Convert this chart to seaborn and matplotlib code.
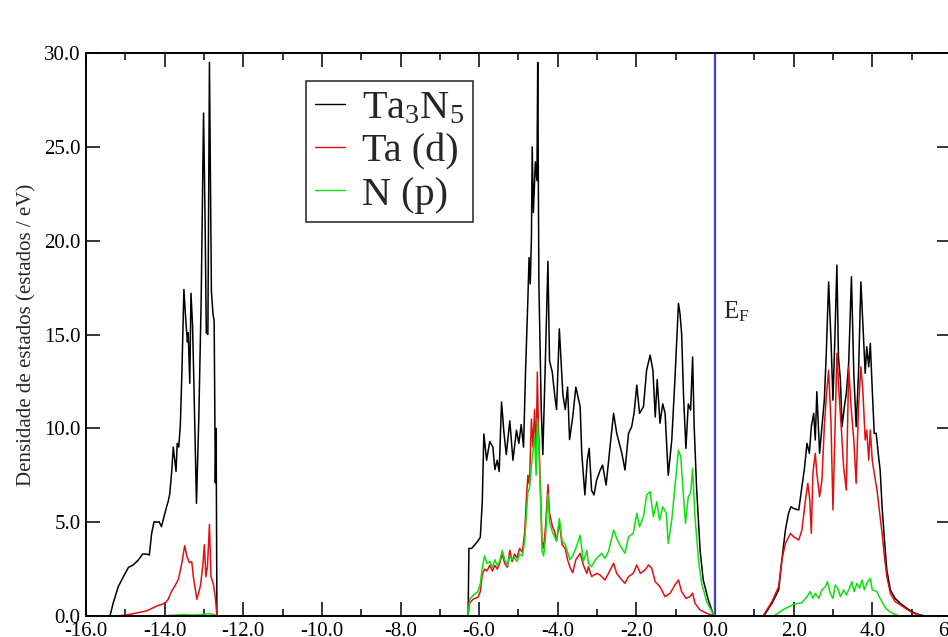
import matplotlib
matplotlib.use("Agg")
import matplotlib.pyplot as plt
from matplotlib.lines import Line2D
from matplotlib.ticker import MultipleLocator, FormatStrFormatter
import numpy as np
import pandas as pd
import seaborn as sns

sns.set_theme(style="ticks")
plt.rcParams['font.family'] = ['Liberation Serif', 'DejaVu Serif']
plt.rcParams['mathtext.fontset'] = 'custom'
plt.rcParams['mathtext.rm'] = 'Liberation Serif'
plt.rcParams['mathtext.it'] = 'Liberation Serif:italic'
plt.rcParams['axes.unicode_minus'] = False

# ---------------- Densidade de estados do Ta3N5 (energia relativa a E_F, eV) ----------------
# Banda inferior (estados N 2s)
b1_e_tot = [-15.39, -15.31, -15.18, -15.05, -14.92, -14.80, -14.67, -14.56, -14.46, -14.39,
            -14.33, -14.27, -14.20, -14.14, -14.08, -14.02, -13.95, -13.91, -13.87, -13.82,
            -13.78, -13.71, -13.68, -13.64, -13.60, -13.56, -13.51, -13.46, -13.42, -13.40,
            -13.36, -13.33, -13.29, -13.26, -13.19, -13.13, -13.07, -13.01, -12.97, -12.94,
            -12.90, -12.86, -12.81, -12.77, -12.74, -12.71, -12.69, -12.67]
b1_tot = [0.00, 0.68, 1.56, 2.09, 2.59, 2.72, 2.98, 3.30, 3.30, 3.25,
          4.40, 5.02, 5.00, 5.02, 4.76, 5.26, 5.82, 6.10, 6.50, 7.70,
          9.00, 7.70, 9.20, 9.00, 10.20, 13.00, 17.40, 15.70, 14.60, 15.10,
          12.40, 17.20, 15.50, 12.80, 6.00, 10.60, 16.90, 26.80, 20.90, 15.10,
          15.00, 29.50, 17.30, 16.10, 15.70, 7.10, 10.00, 0.00]

b1_e_ta = [-15.20, -14.88, -14.46, -14.20, -13.99, -13.91, -13.82, -13.74, -13.65, -13.56,
           -13.49, -13.43, -13.37, -13.31, -13.27, -13.18, -13.09, -13.03, -12.99, -12.95,
           -12.91, -12.86, -12.82, -12.76, -12.71, -12.67]
b1_ta = [0.00, 0.09, 0.27, 0.53, 0.68, 0.89, 1.33, 1.60, 1.95, 2.84,
         3.75, 3.16, 2.84, 2.90, 2.09, 0.89, 1.60, 2.66, 3.80, 2.09,
         2.66, 4.88, 2.09, 1.70, 0.97, 0.00]

b1_e_n = [-14.30, -14.00, -13.70, -13.50, -13.30, -13.10, -12.95, -12.85, -12.75, -12.67]
b1_n = [0.00, 0.02, 0.05, 0.08, 0.05, 0.07, 0.10, 0.12, 0.08, 0.00]

# Banda de valencia
b2_e_tot = [-6.28, -6.26, -6.19, -6.03, -5.97, -5.92, -5.88, -5.81, -5.73, -5.65,
            -5.60, -5.54, -5.49, -5.43, -5.37, -5.31, -5.22, -5.14, -5.05, -4.99,
            -4.93, -4.87, -4.82, -4.76, -4.73, -4.70, -4.67, -4.65, -4.62, -4.57,
            -4.53, -4.51, -4.48, -4.42, -4.38, -4.31, -4.25, -4.21, -4.14, -4.08,
            -4.03, -3.96, -3.87, -3.81, -3.75, -3.70, -3.62, -3.54,
            -3.43, -3.39, -3.31, -3.25, -3.20, -3.14, -3.08, -3.01, -2.92, -2.86,
            -2.77, -2.67, -2.58, -2.50, -2.37, -2.29, -2.20, -2.12, -2.06, -1.99,
            -1.92, -1.82, -1.74, -1.65, -1.58, -1.52, -1.47, -1.40, -1.33, -1.27,
            -1.19, -1.10, -1.02, -0.93, -0.89, -0.85, -0.80, -0.74, -0.68, -0.62,
            -0.57, -0.53, -0.47, -0.38, -0.30, -0.17, -0.04, 0.00]
b2_tot = [0.00, 3.60, 3.60, 4.00, 4.20, 6.10, 9.70, 8.30, 9.30, 9.00,
          7.80, 8.30, 7.70, 11.40, 9.80, 8.60, 10.40, 8.30, 9.90, 9.20,
          10.20, 9.00, 13.00, 16.90, 19.10, 17.70, 20.10, 25.00, 21.50, 24.20,
          23.20, 29.50, 17.70, 11.00, 8.60, 14.00, 18.90, 13.60, 13.00, 11.80,
          11.00, 15.30, 11.80, 11.00, 12.20, 9.40, 10.60, 12.20,
          11.15, 8.67, 6.45, 8.30, 8.93, 6.70, 6.45, 7.25, 7.78, 8.04,
          6.98, 9.02, 10.80, 9.73, 8.67, 7.78, 9.73, 10.09, 10.80, 12.30,
          10.80, 11.15, 13.10, 13.90, 13.10, 10.60, 12.60, 10.27, 11.30, 10.80,
          7.50, 9.38, 12.60, 16.66, 16.10, 15.06, 11.70, 8.93, 11.30, 10.97,
          13.80, 10.09, 6.89, 3.52, 1.92, 0.85, 0.05, 0.00]

b2_e_ta = [-6.28, -6.24, -6.15, -6.03, -5.97, -5.92, -5.86, -5.80, -5.73, -5.66,
           -5.60, -5.54, -5.48, -5.41, -5.35, -5.28, -5.22, -5.16, -5.10, -5.04,
           -4.97, -4.90, -4.84, -4.80, -4.76, -4.72, -4.67, -4.63, -4.59, -4.55,
           -4.52, -4.49, -4.45, -4.40, -4.36, -4.31, -4.25, -4.21, -4.14, -4.08,
           -4.03, -3.96, -3.89, -3.81, -3.75, -3.69, -3.62, -3.54,
           -3.43, -3.35, -3.26, -3.22, -3.14, -3.01, -2.92, -2.80, -2.71, -2.58,
           -2.50, -2.37, -2.29, -2.20, -2.08, -1.99, -1.90, -1.78, -1.69, -1.61,
           -1.52, -1.40, -1.27, -1.14, -1.02, -0.93, -0.85, -0.74, -0.64, -0.57,
           -0.51, -0.38, -0.21, -0.04, 0.00]
b2_ta = [0.00, 0.70, 0.90, 1.00, 1.30, 2.20, 2.50, 2.40, 2.70, 2.40,
         2.70, 2.50, 2.80, 3.30, 2.80, 2.60, 3.50, 2.90, 3.30, 3.10,
         3.60, 3.40, 4.50, 6.20, 7.50, 7.00, 10.50, 9.00, 11.00, 8.50,
         13.00, 10.00, 7.50, 4.00, 3.60, 4.80, 7.00, 5.50, 4.80, 4.50,
         4.00, 5.00, 3.80, 3.60, 3.00, 2.60, 2.30, 3.00,
         3.34, 2.72, 2.27, 2.63, 2.10, 2.27, 2.18, 1.92, 2.27, 2.81,
         2.27, 1.92, 1.74, 2.10, 2.27, 2.72, 2.27, 2.45, 2.72, 2.54,
         1.83, 1.56, 1.03, 1.21, 1.65, 1.92, 1.30, 0.94, 1.03, 1.21,
         0.68, 0.32, 0.14, 0.02, 0.00]

b2_e_n = [-6.28, -6.24, -6.15, -6.03, -5.97, -5.92, -5.86, -5.80, -5.73, -5.66,
          -5.60, -5.54, -5.48, -5.41, -5.35, -5.28, -5.22, -5.16, -5.10, -5.04,
          -4.97, -4.90, -4.84, -4.80, -4.76, -4.72, -4.67, -4.63, -4.59, -4.55,
          -4.52, -4.49, -4.45, -4.40, -4.36, -4.31, -4.25, -4.21, -4.14, -4.08,
          -4.03, -3.96, -3.89, -3.81, -3.75, -3.69, -3.62, -3.54,
          -3.43, -3.35, -3.26, -3.22, -3.14, -3.05, -2.97, -2.88, -2.80, -2.71,
          -2.58, -2.50, -2.42, -2.29, -2.20, -2.08, -1.99, -1.92, -1.82, -1.74,
          -1.65, -1.57, -1.48, -1.41, -1.33, -1.24, -1.19, -1.10, -1.02, -0.93,
          -0.87, -0.82, -0.75, -0.68, -0.62, -0.57, -0.51, -0.42, -0.34, -0.21,
          -0.08, 0.00]
b2_n = [0.00, 0.90, 1.10, 1.30, 1.70, 2.60, 3.20, 2.80, 2.90, 2.60,
        3.00, 2.70, 2.90, 3.50, 3.00, 2.70, 3.20, 3.00, 3.10, 2.90,
        3.30, 3.20, 4.00, 5.30, 6.60, 6.80, 8.00, 8.80, 9.50, 7.50,
        10.50, 9.50, 7.00, 3.50, 3.20, 4.20, 6.50, 5.00, 4.50, 4.20,
        4.00, 5.20, 4.00, 3.80, 3.40, 3.00, 3.20, 3.60,
        4.30, 2.90, 3.50, 2.80, 2.63, 2.98, 3.16, 3.34, 3.07, 3.43,
        4.58, 4.14, 3.78, 3.34, 4.22, 4.40, 5.47, 4.76, 5.29, 6.45,
        6.62, 5.29, 6.09, 5.11, 5.82, 5.47, 3.87, 5.11, 6.89, 8.84,
        8.49, 6.89, 4.94, 6.36, 6.54, 7.87, 5.29, 2.98, 1.74, 0.76,
        0.23, 0.00]

# Banda de conducao
b3_e_tot = [1.24, 1.45, 1.62, 1.70, 1.79, 1.87, 1.93, 2.00, 2.13, 2.21,
            2.27, 2.34, 2.40, 2.45, 2.51, 2.55, 2.59, 2.66, 2.72, 2.78,
            2.83, 2.89, 2.95, 3.00, 3.05, 3.10, 3.14, 3.19, 3.23, 3.29,
            3.34, 3.40, 3.47, 3.53, 3.59, 3.65, 3.71, 3.76, 3.82, 3.86,
            3.91, 3.95, 4.00, 4.05, 4.10, 4.16, 4.20, 4.25, 4.31, 4.37,
            4.46, 4.58, 4.71, 4.88, 5.05, 5.22, 5.35]
b3_tot = [0.00, 0.68, 1.39, 2.98, 4.58, 5.47, 5.82, 5.73, 5.65, 6.89,
          7.78, 9.20, 8.67, 10.09, 10.80, 9.38, 11.95, 8.67, 10.09, 11.50,
          14.00, 17.80, 14.70, 11.50, 14.90, 18.70, 13.80, 12.57, 10.09, 11.15,
          11.86, 13.46, 18.08, 12.93, 10.09, 12.93, 17.80, 15.60, 12.93, 14.35,
          13.28, 14.53, 12.04, 9.73, 9.73, 8.49, 7.78, 5.82, 4.05, 2.45,
          1.39, 0.94, 0.68, 0.41, 0.18, 0.05, 0.00]

b3_e_ta = [1.22, 1.45, 1.62, 1.70, 1.79, 1.92, 2.00, 2.13, 2.21, 2.30,
           2.36, 2.41, 2.45, 2.49, 2.55, 2.59, 2.66, 2.72, 2.78, 2.83,
           2.89, 2.95, 3.00, 3.05, 3.10, 3.16, 3.21, 3.27, 3.34, 3.40,
           3.46, 3.53, 3.59, 3.65, 3.71, 3.76, 3.82, 3.86, 3.91, 3.95,
           4.00, 4.05, 4.12, 4.19, 4.25, 4.31, 4.37, 4.46, 4.58, 4.71,
           4.88, 5.05, 5.22, 5.35]
b3_ta = [0.00, 0.77, 1.57, 2.98, 3.87, 4.40, 4.22, 4.05, 4.58, 6.18,
         7.07, 6.18, 4.40, 7.60, 8.67, 7.60, 6.36, 7.25, 10.09, 11.68,
         13.10, 10.27, 5.65, 9.73, 14.00, 11.68, 10.09, 7.96, 6.71, 13.28,
         11.15, 9.38, 7.07, 11.15, 13.28, 12.04, 9.38, 9.91, 8.31, 9.91,
         8.31, 7.60, 6.71, 5.47, 4.40, 3.16, 2.10, 1.21, 0.77, 0.60,
         0.36, 0.14, 0.04, 0.00]

b3_e_n = [1.49, 1.75, 2.00, 2.21, 2.34, 2.42, 2.49, 2.55, 2.64, 2.72,
          2.81, 2.86, 2.93, 3.00, 3.06, 3.12, 3.19, 3.27, 3.34, 3.42,
          3.48, 3.54, 3.61, 3.68, 3.74, 3.80, 3.86, 3.95, 4.00, 4.12,
          4.20, 4.33, 4.46, 4.63, 4.71]
b3_n = [0.00, 0.36, 0.62, 0.71, 1.03, 1.30, 0.94, 1.21, 0.94, 1.39,
        1.57, 1.83, 1.21, 0.94, 1.65, 1.48, 1.03, 1.39, 1.12, 1.48,
        1.83, 1.30, 1.74, 1.48, 1.92, 1.39, 1.74, 2.00, 1.39, 1.30,
        0.94, 0.45, 0.20, 0.04, 0.00]

series_names = ['Ta$_3$N$_5$', 'Ta (d)', 'N (p)']
series_colors = ['#000000', '#e01010', '#10e010']

# ---------------- tabela longa para o seaborn ----------------
blocks = [
    (series_names[0], 1, b1_e_tot, b1_tot), (series_names[0], 2, b2_e_tot, b2_tot),
    (series_names[0], 3, b3_e_tot, b3_tot),
    (series_names[1], 1, b1_e_ta, b1_ta), (series_names[1], 2, b2_e_ta, b2_ta),
    (series_names[1], 3, b3_e_ta, b3_ta),
    (series_names[2], 1, b1_e_n, b1_n), (series_names[2], 2, b2_e_n, b2_n),
    (series_names[2], 3, b3_e_n, b3_n),
]
frames = [pd.DataFrame({'E': e, 'dos': v, 'serie': s, 'banda': b}) for s, b, e, v in blocks]
df = pd.concat(frames, ignore_index=True)

W, H = 948, 637
fig = plt.figure(figsize=(W / 100, H / 100), dpi=100)
ax = fig.add_axes([86 / W, 1 - 616 / H, (950.9 - 86) / W, (616 - 53) / H])

ax.axvline(0.0, color='#3c3cd2', lw=1.6, zorder=1)

sns.lineplot(data=df, x='E', y='dos', hue='serie', units='banda', estimator=None,
             sort=False, hue_order=series_names,
             palette=dict(zip(series_names, series_colors)),
             linewidth=1.1, legend=False, ax=ax, zorder=2)

ax.set_xlim(-16, 6)
ax.set_ylim(0, 30)
ax.xaxis.set_major_locator(MultipleLocator(2))
ax.xaxis.set_minor_locator(MultipleLocator(1))
ax.yaxis.set_major_locator(MultipleLocator(5))
ax.xaxis.set_major_formatter(FormatStrFormatter('%.1f'))
ax.yaxis.set_major_formatter(FormatStrFormatter('%.1f'))
ax.tick_params(axis='both', which='both', direction='in', top=True, right=True,
               colors='black', labelsize=15)
ax.tick_params(axis='both', which='major', length=10, width=1.1)
ax.tick_params(axis='both', which='minor', length=5, width=1.1)
ax.tick_params(axis='x', which='major', pad=4)
ax.tick_params(axis='y', which='major', pad=4)
for sp in ax.spines.values():
    sp.set_visible(True)
    sp.set_linewidth(1.4)
    sp.set_color('black')

ax.set_xlabel('')
ax.set_ylabel('Densidade de estados (estados / eV)', fontsize=15)
ax.yaxis.set_label_coords(-0.057, 0.5)

ax.text(0.2, 15.88, r'E$_{\mathrm{F}}$', fontsize=18, ha='left', va='baseline')

handles = [Line2D([], [], color=c, lw=1.0) for c in series_colors]
leg = ax.legend(handles, series_names, loc='upper left',
                bbox_to_anchor=(306 / W, 1 - 81 / H), bbox_transform=fig.transFigure,
                borderaxespad=0, fontsize=29, frameon=True, fancybox=False,
                handlelength=0.75, handletextpad=0.42, borderpad=0.22,
                labelspacing=0.15)
leg.get_frame().set_edgecolor('#333333')
leg.get_frame().set_linewidth(1.2)
leg.get_frame().set_alpha(1)

fig.savefig('out.png', dpi=100)
